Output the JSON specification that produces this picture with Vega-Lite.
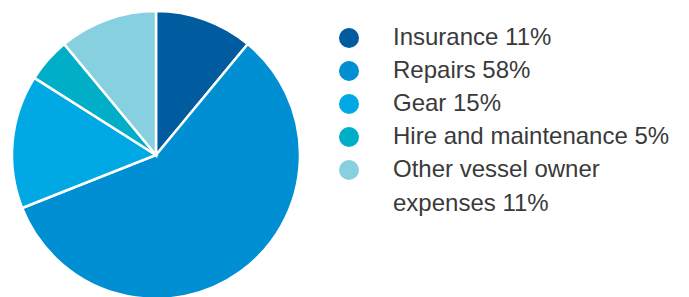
{
  "$schema": "https://vega.github.io/schema/vega-lite/v6.json",
  "width": 312,
  "height": 310,
  "padding": 0,
  "autosize": {"type": "pad"},
  "background": "white",
  "config": {
    "view": {"stroke": null},
    "style": {"guide-label": {"lineHeight": 34}}
  },
  "data": {
    "values": [
      {"category": "Insurance 11%", "value": 11, "order": 1},
      {"category": "Repairs 58%", "value": 58, "order": 2},
      {"category": "Gear 15%", "value": 15, "order": 3},
      {"category": "Hire and maintenance 5%", "value": 5, "order": 4},
      {"category": "Other vessel owner expenses 11%", "value": 11, "order": 5}
    ]
  },
  "mark": {"type": "arc", "outerRadius": 144, "stroke": "white", "strokeWidth": 2.5},
  "encoding": {
    "theta": {"field": "value", "type": "quantitative", "stack": true},
    "order": {"field": "order", "type": "quantitative"},
    "color": {
      "field": "category",
      "type": "nominal",
      "sort": null,
      "scale": {
        "domain": ["Insurance 11%", "Repairs 58%", "Gear 15%", "Hire and maintenance 5%", "Other vessel owner expenses 11%"],
        "range": ["#005b9f", "#008fd3", "#00a8e4", "#00afc7", "#86d0e0"]
      },
      "legend": {
        "title": null,
        "orient": "none",
        "legendX": 337,
        "legendY": 26,
        "padding": 0,
        "symbolType": "circle",
        "symbolSize": 400,
        "symbolStrokeWidth": 0,
        "labelFont": "Liberation Sans",
        "labelFontSize": 24,
        "labelColor": "#3a3a3a",
        "labelOffset": 32,
        "labelLimit": 400,
        "rowPadding": 9,
        "labelExpr": "datum.label == 'Other vessel owner expenses 11%' ? ['Other vessel owner', 'expenses 11%'] : datum.label",
        "encode": {"labels": {"update": {"lineHeight": {"value": 34}}}}
      }
    }
  }
}
